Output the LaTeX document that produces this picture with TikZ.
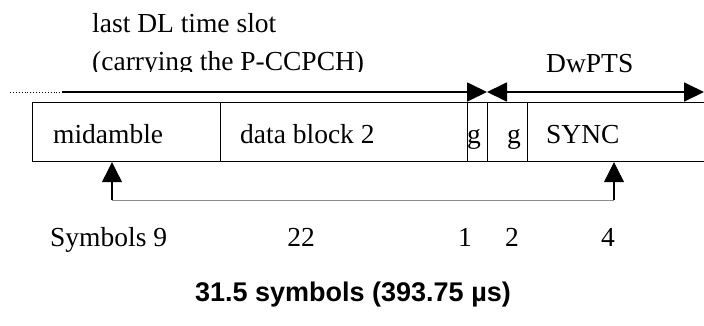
\documentclass[tikz,border=0pt]{standalone}
\usepackage{fontspec}
\setmainfont{Liberation Serif}
\newfontfamily\sansfont{Liberation Sans}
\usetikzlibrary{arrows.meta}
\tikzset{
  bigtip/.tip={Triangle[length=20pt,width=19pt]},
  uptip/.tip={Triangle[length=20pt,width=20pt]}}
\begin{document}
\begin{tikzpicture}[x=1pt,y=-1pt,
  lbl/.style={anchor=base west, inner sep=0pt, font=\fontsize{27.5}{33}\selectfont},
  num/.style={anchor=base, inner sep=0pt, font=\fontsize{27.5}{33}\selectfont},
  cell/.style={draw=black, line width=1.2pt, anchor=north west, inner sep=0pt, minimum height=59pt},
  toparrow/.style={line width=1.8pt, draw=black},
  link/.style={line width=1pt, draw=black!45},
  riser/.style={line width=1.2pt, draw=black}]
\useasboundingbox (0,0) rectangle (704,325);
% cells
\node[cell, minimum width=188pt] (mid)  at (32,102) {};
\node[cell, minimum width=247pt] (data) at (220,102) {};
\node[cell, minimum width=20pt]  (ga)   at (467,102) {};
\node[cell, minimum width=40pt]  (gb)   at (487,102) {};
\node[cell, minimum width=200pt] (sync) at (527,102) {};
% cell labels
\node[lbl] (tmid)  at (53,143) {midamble};
\node[lbl] (tdata) at (240,143) {data block 2};
\node[lbl] (tga)   at (467,143) {g};
\node[lbl] (tgb)   at (507,143) {g};
\node[lbl] (tsync) at (546,143) {SYNC};
% top labels
\node[lbl] (tslot) at (92,32) {last DL time slot};
\begin{scope}
\clip (0,40) rectangle (400,71.5);
\node[lbl] (tcarry) at (92,70) {(carrying the P-CCPCH)};
\end{scope}
\node[lbl] (tdw) at (546,72) {DwPTS};
% top arrows
\coordinate (dotA) at (10,92);
\coordinate (dotB) at (60,92);
\coordinate (slotA) at (62,92);
\coordinate (split) at (487,92);
\coordinate (dwB) at (704,92);
\draw[line width=0.9pt, dotted] (dotA) -- (dotB);
\draw[toparrow, -{bigtip}] (slotA) -- (split);
\draw[toparrow, {bigtip}-{bigtip}] (split) -- (dwB);
% bottom connector
\coordinate (b1) at (112,200);
\coordinate (b2) at (614,200);
\draw[link] (b1) -- (b2);
\draw[riser, -{uptip}] (b1) -- (b1 |- mid.south);
\draw[riser, -{uptip}] (b2) -- (b2 |- sync.south);
% symbol counts
\node[lbl] (tsym) at (50,246) {Symbols 9};
\node[num] (n22) at (301,246) {22};
\node[num] (n1) at (465,246) {1};
\node[num] (n2) at (512,246) {2};
\node[num] (n4) at (608,246) {4};
\node[anchor=base, inner sep=0pt, font=\sansfont\bfseries\fontsize{27}{32}\selectfont] (total) at (353,301) {31.5 symbols (393.75 µs)};
\end{tikzpicture}
\end{document}
